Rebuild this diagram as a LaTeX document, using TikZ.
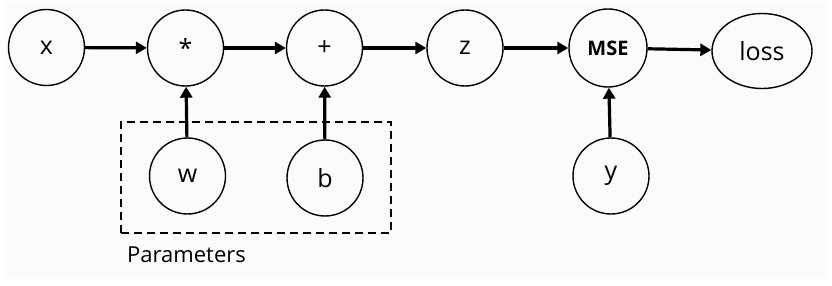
\documentclass[tikz,border=0pt]{standalone}
\usepackage{fontspec}
\setmainfont{Open Sans}
\usetikzlibrary{arrows.meta,shapes.geometric}
\begin{document}
\begin{tikzpicture}[x=1pt,y=-1pt,
  vnode/.style={draw,line width=1.4pt,circle,minimum size=76pt,inner sep=0pt,font=\fontsize{25}{29}\selectfont},
  lossnode/.style={draw,line width=1.4pt,ellipse,minimum width=100pt,minimum height=75pt,inner sep=0pt,font=\fontsize{25}{30}\selectfont},
  conn/.style={line width=3.2pt,-{Triangle[length=11pt,width=12pt]}},
  paramsbox/.style={draw,line width=1.3pt,dash pattern=on 8pt off 5pt}]
\useasboundingbox (0,0) rectangle (832,286);
\fill[white] (0,0) rectangle (832,286);
\fill[black!1.5] (5,4) rectangle (827,277);
\node[paramsbox,minimum width=270pt,minimum height=111pt,inner sep=0pt] (box) at (256,177.5) {};
\node[vnode] (x) at (46.5,47.5) {x};
\node[vnode] (mul) at (185.5,48) {*};
\node[vnode] (add) at (324.5,48) {+};
\node[vnode] (z) at (465,48) {z};
\node[vnode,minimum size=78pt,font=\fontsize{20}{24}\selectfont\bfseries] (mse) at (608,48) {MSE};
\node[lossnode] (loss) at (762,51) {loss};
\node[vnode] (w) at (187.5,176) {w};
\node[vnode] (b) at (325,178) {b};
\node[vnode] (y) at (611,176) {y};
\node[anchor=west,inner sep=0pt,font=\fontsize{22}{26}\selectfont] (plabel) at (127,255) {Parameters};
\draw[conn] (x) -- (mul);
\draw[conn] (mul) -- (add);
\draw[conn] (add) -- (z);
\draw[conn] (z) -- (mse);
\draw[conn] (mse) -- (loss);
\draw[conn] (w) -- (mul);
\draw[conn] (b) -- (add);
\draw[conn] (y) -- (mse);
\end{tikzpicture}
\end{document}
